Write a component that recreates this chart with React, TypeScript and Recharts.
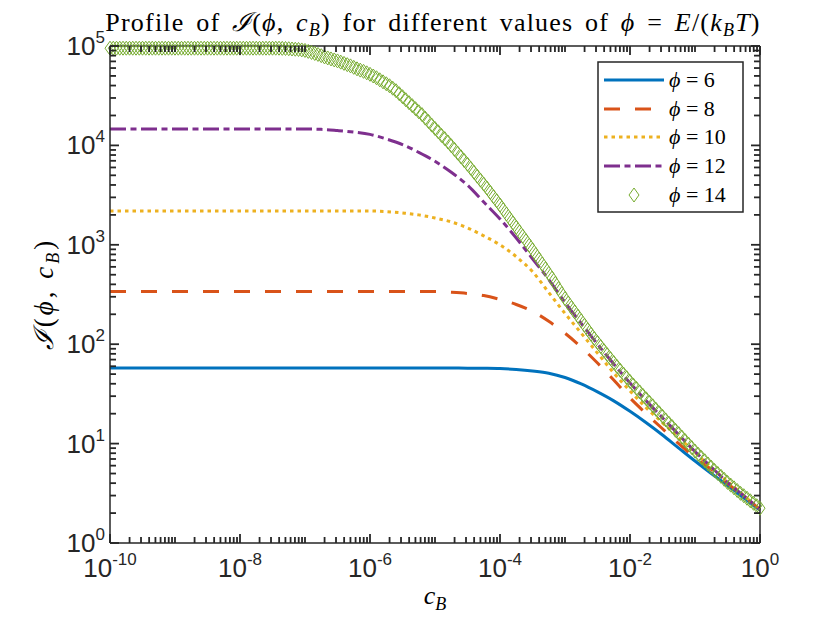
import { LineChart, Line, XAxis, YAxis, Legend } from 'recharts';

// c_B sample grids (log-spaced, as in the original logspace call)
const cLine = Array.from({ length: 41 }, (_, i) => 10 ** (-10 + i / 4));
const cMarker = Array.from({ length: 201 }, (_, i) => 10 ** (-10 + i / 20));

// I(phi, c_B), one value per cLine point
const phi6 = [
  57.5, 57.5, 57.5, 57.5, 57.5, 57.5, 57.5, 57.5, 57.5, 57.5, 57.5,
  57.5, 57.5, 57.5, 57.5, 57.5, 57.5, 57.5, 57.5, 57.5, 57.5, 57.5,
  57.4, 57.2, 56.8, 55.6, 53.7, 51.0, 46.2, 39.8, 33.1, 26.9, 21.1,
  16.2, 12.2, 9.02, 6.68, 5.01, 3.8, 2.85, 2.14,
];
const phi8 = [
  339, 339, 339, 339, 339, 339, 339, 339, 339, 339, 339,
  339, 339, 339, 339, 339, 339, 339, 339, 339, 339,
  333, 324, 309, 282, 251, 214, 170, 129, 93.3, 64.6, 43.7, 28.8,
  20.0, 14.1, 10.0, 7.24, 5.5, 3.98, 2.95, 2.19,
];
const phi10 = [
  2190, 2190, 2190, 2190, 2190, 2190, 2190, 2190, 2190, 2190,
  2190, 2190, 2190, 2190, 2190, 2190, 2190,
  2160, 2090, 2000, 1860, 1700, 1480, 1230, 1000, 759, 537, 331, 204,
  129, 81.3, 51.3, 33.9, 22.9, 16.2, 11.5, 8.13, 5.75, 4.17, 3.02, 2.19,
];
const phi12 = [
  14600, 14600, 14600, 14600, 14600, 14600, 14600, 14600, 14600,
  14600, 14600, 14600, 14600,
  14500, 14100, 13600, 12900, 11600, 10200, 8510, 6920, 5370, 3980,
  2690, 1820, 1170, 724, 447, 263, 162, 100, 63.1, 40.7, 26.9, 18.2,
  12.3, 8.32, 5.82, 4.07, 2.99, 2.19,
];
// phi = 14, one value per cMarker point (diamond markers)
const phi14 = [
  95000, 95000, 95000, 95000, 95000, 95000, 95000, 95000, 95000, 95000,
  95000, 95000, 95000, 95000, 95000, 95000, 95000, 95000, 95000, 95000,
  95000, 95000, 95000, 95000, 95000, 95000, 95000, 95000, 95000, 95000,
  95000, 95000, 95000, 95000, 95000, 95000, 95000, 95000, 95000, 95000,
  95000, 95000, 95000, 95000, 95000, 95000, 95000, 95000, 95000, 95000,
  95000, 95000,
  95000, 94700, 94400, 93900, 93300, 92800, 92300, 91300, 90200,
  88200, 86100, 84100, 82200, 79900, 77600, 75800, 74100, 72400, 70800,
  68800, 66800, 64900, 63100, 61000, 58900, 57200, 55600, 53700, 51900,
  49900, 47900, 45700, 43600, 41700, 39800, 37600, 35500, 33100, 30900,
  28800, 26900, 25100, 23400, 21800, 20400, 18800, 17400, 16000, 14800,
  13700, 12600, 11700, 10800, 9920, 9120, 8360, 7670, 7040, 6460,
  5890, 5370, 4900, 4470, 4080, 3720, 3370, 3050, 2770, 2510,
  2260, 2040, 1840, 1660, 1500, 1350, 1220, 1100, 990, 891,
  799, 716, 642, 575, 515, 462, 410, 363, 323, 288,
  260, 234, 211, 191, 172, 155, 140, 126, 114, 104,
  94.6, 86.1, 78.5, 71.6, 65.3, 59.6, 54.6, 50.1, 46.0, 42.2,
  38.9, 35.9, 33.1, 30.5, 28.2, 26.0, 24.0, 22.1, 20.4, 18.8,
  17.3, 16.0, 14.8, 13.6, 12.6, 11.6, 10.7, 9.89, 9.12, 8.41,
  7.8, 7.24, 6.72, 6.24, 5.79, 5.37, 5.01, 4.68, 4.37, 4.07,
  3.82, 3.59, 3.37, 3.16, 2.99, 2.82, 2.66, 2.51, 2.37, 2.24,
];

const xMajor = [1e-10, 1e-8, 1e-6, 1e-4, 1e-2, 1];
const yMajor = [1, 10, 100, 1000, 10000, 100000];

const AXIS = '#262626';
const TICK_FONT = '"Liberation Sans", Arial, sans-serif';
const MATH_FONT = '"Liberation Serif", "DejaVu Serif", serif';

const series = [
  { key: 'p6', label: '6', color: '#0072BD', dash: undefined, data: phi6 },
  { key: 'p8', label: '8', color: '#D95319', dash: '16 15', data: phi8 },
  { key: 'p10', label: '10', color: '#EDB120', dash: '3.5 4', data: phi10 },
  { key: 'p12', label: '12', color: '#7E2F8E', dash: '16 4.5 6 4.5', data: phi12 },
];
const GREEN = '#77AC30';

const toPoints = (xs: number[], ys: number[]) => xs.map((c, i) => ({ c, v: ys[i] }));

function logTicks(lo: number, hi: number) {
  const out: number[] = [];
  for (let k = lo; k < hi; k++) {
    for (let m = 1; m <= 9; m++) out.push(m * 10 ** k);
  }
  out.push(10 ** hi);
  return out;
}
const xTicks = logTicks(-10, 0);
const yTicks = logTicks(0, 5);

const isMajor = (v: number, majors: number[]) =>
  majors.some((m) => Math.abs(v - m) / m < 1e-6);

const expOf = (v: number) => Math.round(Math.log10(v));

const MAJOR_LEN = 9;
const MINOR_LEN = 6;
const TICK_W = 1.8;

function BottomTick(props: any) {
  const { x, y, payload } = props;
  const major = isMajor(payload.value, xMajor);
  return (
    <g>
      <path d={`M${x},${y}V${y - (major ? MAJOR_LEN : MINOR_LEN)}`} stroke={AXIS} strokeWidth={TICK_W} fill="none" />
      {major && (
        <text x={x} y={y + 34} textAnchor="middle" fontFamily={TICK_FONT} fontSize={26} fill={AXIS}>
          10<tspan dy={-12} fontSize={17}>{expOf(payload.value)}</tspan>
        </text>
      )}
    </g>
  );
}

function TopTick(props: any) {
  const { x, y, payload } = props;
  const major = isMajor(payload.value, xMajor);
  return (
    <g>
      <path d={`M${x},${y}V${y + (major ? MAJOR_LEN : MINOR_LEN)}`} stroke={AXIS} strokeWidth={TICK_W} fill="none" />
    </g>
  );
}

function LeftTick(props: any) {
  const { x, y, payload } = props;
  const major = isMajor(payload.value, yMajor);
  return (
    <g>
      <path d={`M${x},${y}H${x + (major ? MAJOR_LEN : MINOR_LEN)}`} stroke={AXIS} strokeWidth={TICK_W} fill="none" />
      {major && (
        <text x={x - 5} y={y + 9} textAnchor="end" fontFamily={TICK_FONT} fontSize={26} fill={AXIS}>
          10<tspan dy={-12} fontSize={17}>{expOf(payload.value)}</tspan>
        </text>
      )}
    </g>
  );
}

function RightTick(props: any) {
  const { x, y, payload } = props;
  const major = isMajor(payload.value, yMajor);
  return (
    <g>
      <path d={`M${x},${y}H${x - (major ? MAJOR_LEN : MINOR_LEN)}`} stroke={AXIS} strokeWidth={TICK_W} fill="none" />
    </g>
  );
}

function Diamond(props: any) {
  const { cx, cy, index } = props;
  if (cx == null || cy == null) return null;
  return (
    <path
      key={`dm-${index}`}
      d={`M${cx},${cy - 7}L${cx + 5},${cy}L${cx},${cy + 7}L${cx - 5},${cy}Z`}
      fill="none"
      stroke={GREEN}
      strokeWidth={1}
    />
  );
}

const Phi = () => <tspan fontStyle="italic">ϕ</tspan>;

function LegendBox() {
  const rowY = [19, 48, 76, 105, 134];
  return (
    <svg width={148} height={153} style={{ display: 'block' }}>
      <rect x={1} y={1} width={145} height={150} fill="#fff" stroke={AXIS} strokeWidth={1.5} />
      {series.map((s, i) => (
        <g key={s.key}>
          <line x1={7} x2={67} y1={rowY[i]} y2={rowY[i]} stroke={s.color} strokeWidth={3} strokeDasharray={s.dash} />
          <text x={72} y={rowY[i] + 7} fontFamily={MATH_FONT} fontSize={22} fill="#000">
            <Phi /> = {s.label}
          </text>
        </g>
      ))}
      <path d={`M37,${rowY[4] - 7}L42,${rowY[4]}L37,${rowY[4] + 7}L32,${rowY[4]}Z`} fill="none" stroke={GREEN} strokeWidth={1} />
      <text x={72} y={rowY[4] + 7} fontFamily={MATH_FONT} fontSize={22} fill="#000">
        <Phi /> = 14
      </text>
    </svg>
  );
}

const titleLabel = () => (
  <text x={433} y={31} textAnchor="middle" fontFamily={MATH_FONT} fontSize={26} letterSpacing={1.2} wordSpacing={4} fill="#000">
    Profile of <tspan fontStyle="italic">ℐ</tspan>(<Phi />, <tspan fontStyle="italic">c</tspan>
    <tspan dy={5} fontSize={18} fontStyle="italic">B</tspan>
    <tspan dy={-5}>) for different values of </tspan>
    <Phi /> = <tspan fontStyle="italic">E</tspan>/(<tspan fontStyle="italic">k</tspan>
    <tspan dy={5} fontSize={18} fontStyle="italic">B</tspan>
    <tspan dy={-5} fontStyle="italic">T</tspan>)
  </text>
);

const xLabel = () => (
  <text x={435} y={604} textAnchor="middle" fontFamily={MATH_FONT} fontSize={26} fill="#000">
    <tspan fontStyle="italic">c</tspan>
    <tspan dy={6} fontSize={18} fontStyle="italic">B</tspan>
  </text>
);

const yLabel = () => (
  <text x={0} y={0} transform="translate(53,294) rotate(-90)" textAnchor="middle" fontFamily={MATH_FONT} fontSize={27} letterSpacing={3} fill="#000">
    <tspan fontStyle="italic">ℐ</tspan>(<Phi />, <tspan fontStyle="italic">c</tspan>
    <tspan dy={6} fontSize={18} fontStyle="italic">B</tspan>
    <tspan dy={-6}>)</tspan>
  </text>
);

export default function App() {
  const markerPoints = toPoints(cMarker, phi14);
  return (
    <div style={{ position: 'absolute', left: 0, top: 0, width: 840, height: 630, background: '#fff' }}>
      <LineChart width={840} height={630} margin={{ top: 36, right: 70, bottom: 27, left: 0 }}>
        <XAxis
          xAxisId="b"
          dataKey="c"
          type="number"
          scale="log"
          domain={[1e-10, 1]}
          ticks={xTicks}
          interval={0}
          height={60}
          tickSize={0}
          tickMargin={0}
          tickLine={false}
          tick={<BottomTick />}
          axisLine={{ stroke: AXIS, strokeWidth: 1.5 }}
          label={xLabel}
        />
        <XAxis
          xAxisId="t"
          orientation="top"
          dataKey="c"
          type="number"
          scale="log"
          domain={[1e-10, 1]}
          ticks={xTicks}
          interval={0}
          height={10}
          tickSize={0}
          tickMargin={0}
          tickLine={false}
          tick={<TopTick />}
          axisLine={{ stroke: AXIS, strokeWidth: 1.5 }}
          label={titleLabel}
        />
        <YAxis
          yAxisId="l"
          type="number"
          scale="log"
          domain={[1, 100000]}
          ticks={yTicks}
          interval={0}
          width={110}
          tickSize={0}
          tickMargin={0}
          tickLine={false}
          tick={<LeftTick />}
          axisLine={{ stroke: AXIS, strokeWidth: 1.5 }}
          label={yLabel}
        />
        <YAxis
          yAxisId="r"
          orientation="right"
          type="number"
          scale="log"
          domain={[1, 100000]}
          ticks={yTicks}
          interval={0}
          width={10}
          tickSize={0}
          tickMargin={0}
          tickLine={false}
          tick={<RightTick />}
          axisLine={{ stroke: AXIS, strokeWidth: 1.5 }}
        />
        {/* invisible series so the top / right box axes get a scale */}
        <Line
          xAxisId="t"
          yAxisId="r"
          data={markerPoints}
          dataKey="v"
          stroke="none"
          dot={false}
          activeDot={false}
          legendType="none"
          isAnimationActive={false}
        />
        {series.map((s) => (
          <Line
            key={s.key}
            xAxisId="b"
            yAxisId="l"
            data={toPoints(cLine, s.data)}
            dataKey="v"
            type="monotone"
            stroke={s.color}
            strokeWidth={3}
            strokeDasharray={s.dash}
            dot={false}
            activeDot={false}
            isAnimationActive={false}
          />
        ))}
        <Line
          xAxisId="b"
          yAxisId="l"
          data={markerPoints}
          dataKey="v"
          stroke="none"
          dot={Diamond}
          activeDot={false}
          isAnimationActive={false}
        />
        <Legend
          layout="horizontal"
          align="center"
          verticalAlign="middle"
          content={() => <LegendBox />}
          wrapperStyle={{ position: 'absolute', left: 597, top: 61, width: 148, height: 153 }}
        />
      </LineChart>
    </div>
  );
}
